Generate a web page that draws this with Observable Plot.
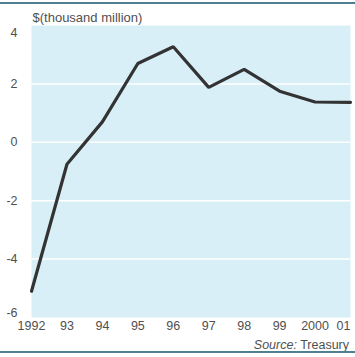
<!DOCTYPE html>
<html><head><meta charset="utf-8">
<script src="https://cdn.jsdelivr.net/npm/d3@7"></script>
<script src="https://cdn.jsdelivr.net/npm/@observablehq/plot@0.6"></script>
<style>
body{margin:0;background:#fff;}
#wrap{position:relative;width:355px;height:357px;font-family:"Liberation Sans",Arial,sans-serif;}
.rule{position:absolute;left:0;width:355px;height:2px;background:#4f8090;}
</style>
</head><body>
<div id="wrap"></div>
<script>
const years = [1992, 1993, 1994, 1995, 1996, 1997, 1998, 1999, 2000, 2001];
const values = [-5.1, -0.75, 0.7, 2.7, 3.27, 1.88, 2.5, 1.75, 1.38, 1.37];
const yTicks = [-6, -4, -2, 0, 2, 4];
const xTickLabels = ["1992", "93", "94", "95", "96", "97", "98", "99", "2000", "01"];
const unitLabel = "$(thousand million)";
const sourceLabel = "Treasury";

const data = years.map((y, i) => ({year: y, value: values[i]}));
const labelOf = y => xTickLabels[years.indexOf(y)];
const yFmt = d => String(d);
const txt = "#505050";
const fs = 12.5;

const plot = Plot.plot({
  width: 355, height: 357,
  marginLeft: 31, marginRight: 5, marginTop: 25, marginBottom: 40,
  style: {fontFamily: '"Liberation Sans", Arial, sans-serif', fontSize: "12.5px", color: txt, background: "transparent"},
  x: {domain: [1992, 2001], label: null},
  y: {domain: [-6, 4], label: null},
  marks: [
    Plot.frame({fill: "#d8eff8", stroke: null}),
    Plot.gridY(yTicks.filter(t => t > -6 && t < 4), {stroke: "#ffffff", strokeOpacity: 1, strokeWidth: 1.5}),
    Plot.axisY(yTicks.filter(t => t > -6 && t < 4), {tickSize: 0, tickPadding: 14, tickFormat: yFmt, fontSize: fs, fill: txt}),
    Plot.axisY([4], {tickSize: 0, tickPadding: 14, dy: 7, tickFormat: yFmt, fontSize: fs, fill: txt}),
    Plot.axisY([-6], {tickSize: 0, tickPadding: 14, dy: -5, tickFormat: yFmt, fontSize: fs, fill: txt}),
    Plot.axisX(years.slice(0, 9), {tickSize: 0, tickPadding: 4, tickFormat: labelOf, fontSize: fs, fill: txt}),
    Plot.axisX([2001], {tickSize: 0, tickPadding: 4, dx: -7, tickFormat: labelOf, fontSize: fs, fill: txt}),
    Plot.line(data, {x: "year", y: "value", stroke: "#333333", strokeWidth: 3.2, strokeLinejoin: "miter"}),
    Plot.text([unitLabel], {frameAnchor: "top-left", dy: -13, dx: 1, textAnchor: "start", fontSize: 13, fill: txt, text: d => d})
  ]
});
plot.style.position = "absolute";
plot.style.left = "0"; plot.style.top = "0";
const wrap = document.getElementById("wrap");
wrap.appendChild(plot);

const svg = d3.select(plot);
const src = svg.append("text")
  .attr("x", 349).attr("y", 349)
  .attr("text-anchor", "end")
  .attr("font-size", fs)
  .attr("fill", txt);
src.append("tspan").attr("font-style", "italic").text("Source:");
src.append("tspan").text(" " + sourceLabel);

const r1 = document.createElement("div"); r1.className = "rule"; r1.style.top = "2px"; wrap.appendChild(r1);
const r2 = document.createElement("div"); r2.className = "rule"; r2.style.top = "351px"; wrap.appendChild(r2);
</script>
</body></html>
